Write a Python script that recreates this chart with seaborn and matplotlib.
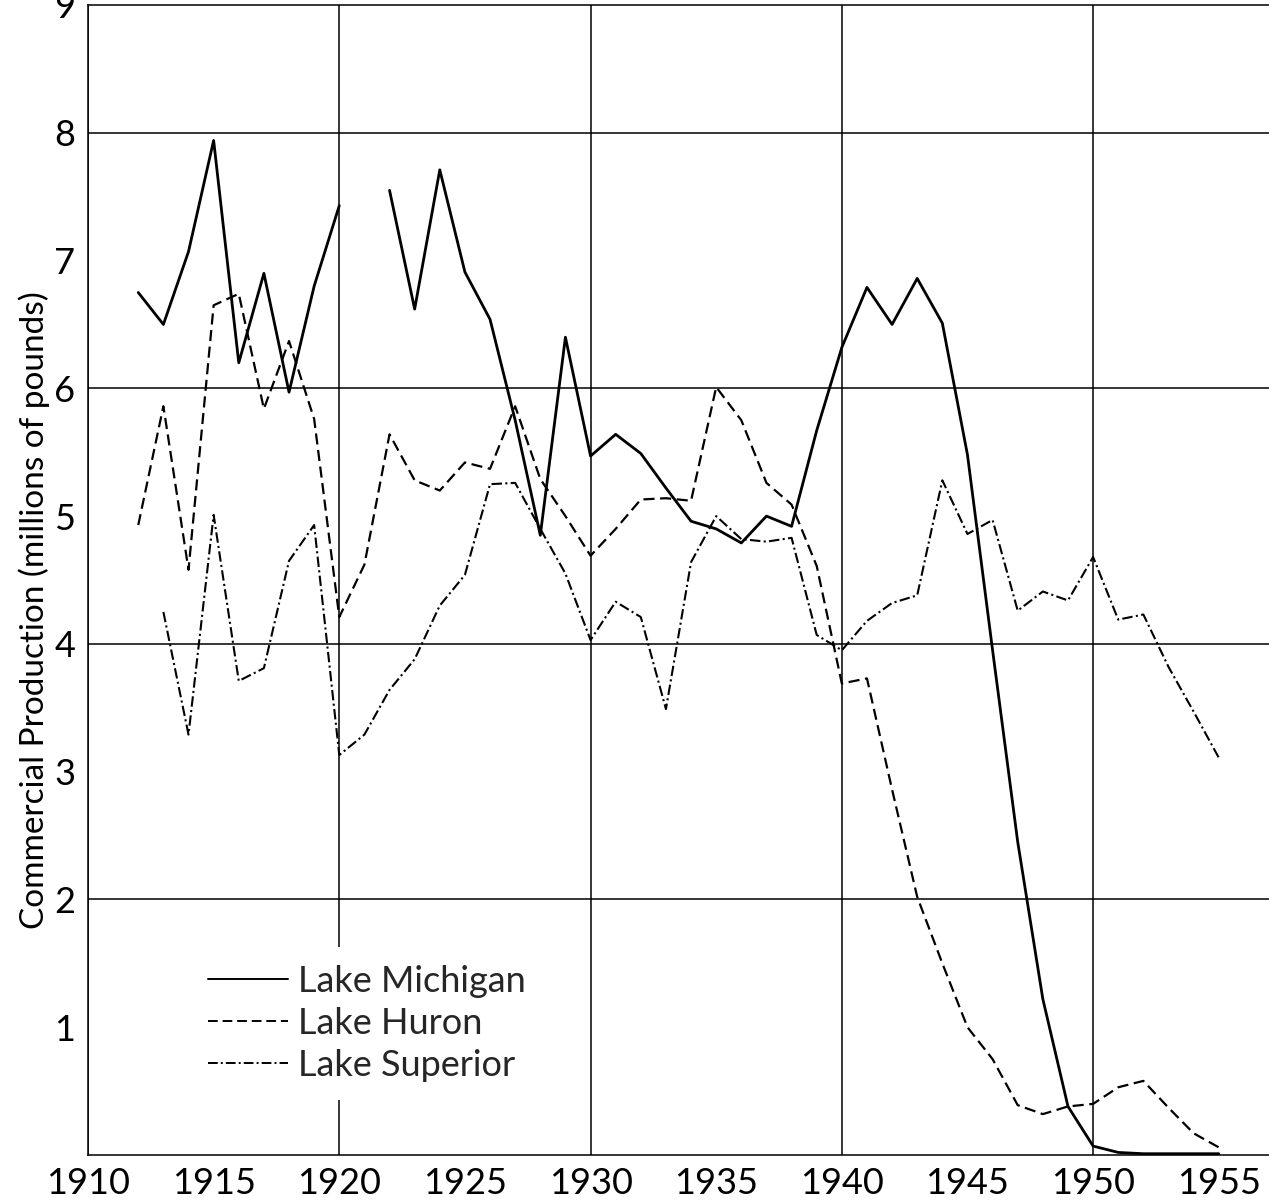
import pandas as pd
import seaborn as sns
import matplotlib.pyplot as plt
from matplotlib.lines import Line2D
from matplotlib.ticker import FixedLocator, FormatStrFormatter

# commercial production, millions of pounds
years = list(range(1912, 1956))
michigan = [6.75, 6.50, 7.07, 7.94, 6.20, 6.90, 5.97, 6.80, 7.43, None,
            7.55, 6.62, 7.71, 6.91, 6.54, 5.75, 4.85, 6.40, 5.47, 5.64,
            5.49, 5.22, 4.96, 4.90, 4.79, 5.00, 4.92, 5.67, 6.32, 6.79,
            6.50, 6.86, 6.51, 5.48, 3.95, 2.45, 1.22, 0.38, 0.07, 0.02,
            0.01, 0.01, 0.01, 0.01]
huron = [4.93, 5.86, 4.58, 6.65, 6.74, 5.84, 6.37, 5.76, 4.21, 4.62,
         5.64, 5.28, 5.20, 5.42, 5.37, 5.86, 5.29, 5.00, 4.69, 4.90,
         5.13, 5.14, 5.12, 6.01, 5.75, 5.26, 5.09, 4.61, 3.69, 3.73,
         2.86, 2.02, 1.50, 1.00, 0.75, 0.39, 0.32, 0.38, 0.40, 0.53,
         0.58, 0.37, 0.17, 0.06]
superior_years = list(range(1913, 1956))
superior = [4.25, 3.29, 5.01, 3.71, 3.81, 4.65, 4.93, 3.13, 3.29, 3.64,
            3.88, 4.30, 4.54, 5.25, 5.26, 4.90, 4.55, 4.03, 4.33, 4.21,
            3.49, 4.64, 5.00, 4.82, 4.80, 4.83, 4.07, 3.95, 4.18, 4.32,
            4.38, 5.28, 4.86, 4.97, 4.26, 4.41, 4.34, 4.68, 4.19, 4.23,
            3.82, 3.47, 3.11]

lakes = ["Lake Michigan", "Lake Huron", "Lake Superior"]
styles = {"Lake Michigan": "-", "Lake Huron": (0, (5, 2.5)), "Lake Superior": (0, (5, 1.6, 1, 1.6))}
widths = {"Lake Michigan": 2.0, "Lake Huron": 1.6, "Lake Superior": 1.5}

sns.set_theme(style="white")
plt.rcParams["font.family"] = ["Lato", "DejaVu Sans"]

fig = plt.figure(figsize=(12.69, 12.04), dpi=100)
ax = fig.add_axes([88 / 1269, 49 / 1204, 1 - 88 / 1269, 1150 / 1204])

for lake, yrs, vals in zip(lakes, [years, years, superior_years], [michigan, huron, superior]):
    d = pd.DataFrame({"year": yrs, "value": vals}, dtype=float)
    # break the line where a year is missing
    d["unit"] = d["value"].isna().cumsum()
    d = d.dropna()
    sns.lineplot(data=d, x="year", y="value", units="unit", estimator=None,
                 color="black", linewidth=widths[lake], linestyle=styles[lake],
                 legend=False, ax=ax)

ax.set_xlim(1910, 1957)
ax.set_ylim(0, 9)
ax.xaxis.set_major_locator(FixedLocator([1910, 1920, 1930, 1940, 1950]))
ax.xaxis.set_minor_locator(FixedLocator([1915, 1925, 1935, 1945, 1955]))
ax.xaxis.set_major_formatter(FormatStrFormatter("%d"))
ax.xaxis.set_minor_formatter(FormatStrFormatter("%d"))
ax.yaxis.set_major_locator(FixedLocator([2, 4, 6, 8]))
ax.yaxis.set_minor_locator(FixedLocator([1, 3, 5, 7, 9]))
ax.yaxis.set_major_formatter(FormatStrFormatter("%d"))
ax.yaxis.set_minor_formatter(FormatStrFormatter("%d"))
ax.tick_params(which="major", length=0, pad=9, labelsize=26, colors="black")
ax.tick_params(which="minor", direction="in", length=29, width=1.1, pad=9,
               labelsize=26, colors="black")
ax.grid(which="major", color="black", linewidth=1.1)
ax.grid(which="minor", visible=False)
for side in ["left", "bottom", "top"]:
    ax.spines[side].set_color("black")
    ax.spines[side].set_linewidth(1.1)
ax.spines["right"].set_visible(False)

ax.set_xlabel("")
ax.set_ylabel("Commercial Production (millions of pounds)", fontsize=24, color="black")
ax.yaxis.set_label_coords(-0.032, 0.474)

handles = [Line2D([], [], color="black", linewidth=1.4, linestyle=styles[l]) for l in lakes]
leg = ax.legend(handles, lakes, loc="upper left", bbox_to_anchor=(0.0864, 0.1809),
                fontsize=26, handlelength=2.2, handletextpad=0.3, labelspacing=0.25,
                borderpad=0.5, borderaxespad=0, frameon=True, fancybox=False,
                facecolor="white", edgecolor="none", framealpha=1)

fig.savefig("out.png", dpi=100)
